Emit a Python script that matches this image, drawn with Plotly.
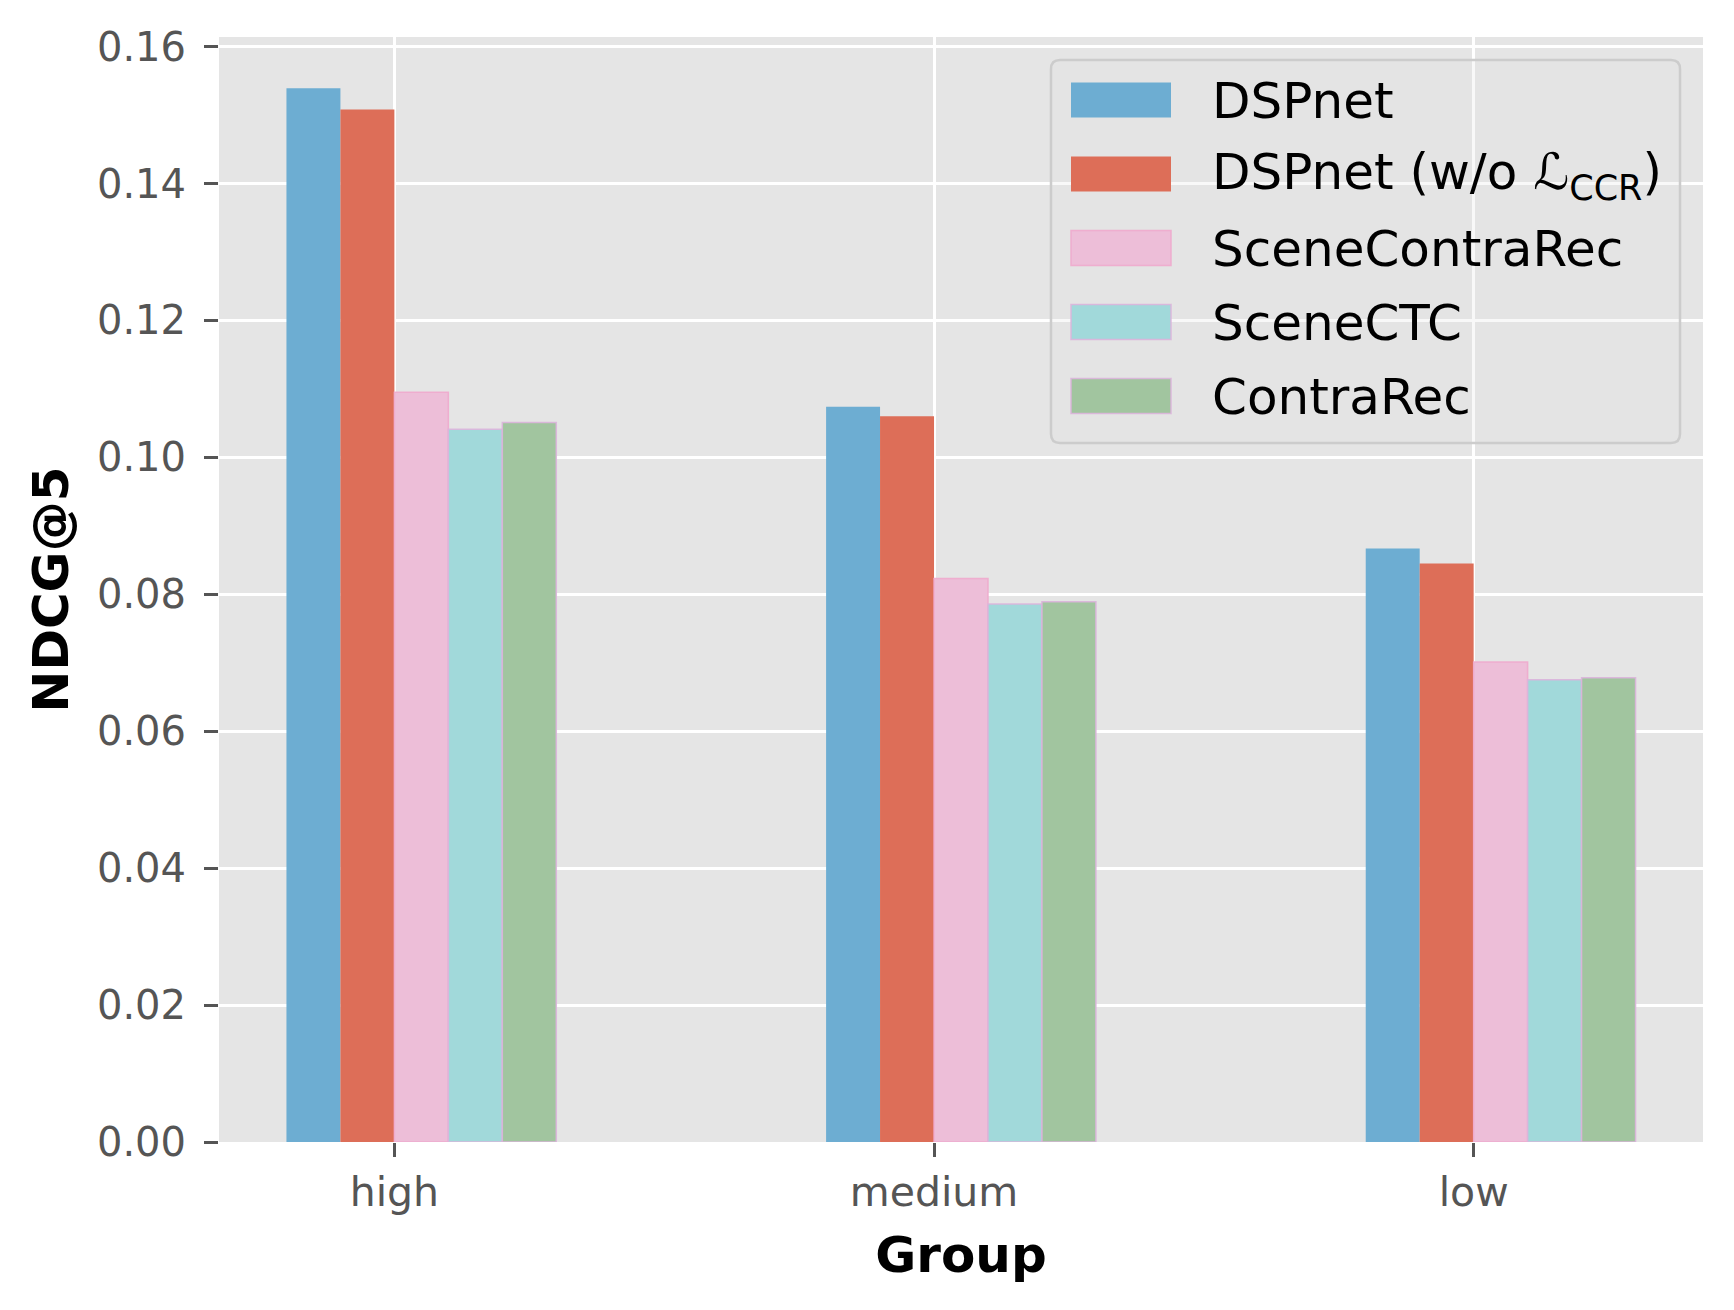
import plotly.graph_objects as go

# ---------------- data ----------------
groups = ["high", "medium", "low"]
series_names = ["DSPnet", "DSPnet (w/o ℒ<sub>CCR</sub>)", "SceneContraRec", "SceneCTC", "ContraRec"]
dspnet = [0.1539, 0.1074, 0.0867]
dspnet_wo_ccr = [0.1508, 0.1060, 0.0845]
scene_contra_rec = [0.1095, 0.0823, 0.0701]
scene_ctc = [0.1041, 0.0786, 0.0675]
contra_rec = [0.1051, 0.0789, 0.0678]
y_ticks = [0.00, 0.02, 0.04, 0.06, 0.08, 0.10, 0.12, 0.14, 0.16]

series_values = [dspnet, dspnet_wo_ccr, scene_contra_rec, scene_ctc, contra_rec]

# ---------------- style ----------------
OFF = 8  # page body margin
W, H = 1734 - OFF, 1310 - OFF
ML, MR, MT, MB = 219 - OFF, 31, 37 - OFF, 168
fills = ["#6DADD2", "#DD6E58", "#EDBED8", "#A1D9DA", "#A1C59F"]
edges = [None, None, "rgba(240,170,205,0.9)", "rgba(220,180,220,0.9)", "rgba(220,180,220,0.9)"]
bar_w = 0.1
FONT = "DejaVu Sans"

fig = go.Figure()
for i, (name, vals) in enumerate(zip(series_names, series_values)):
    line = dict(width=0) if edges[i] is None else dict(width=1.5, color=edges[i])
    fig.add_trace(go.Bar(
        x=groups, y=vals, name=name,
        width=bar_w, offset=(i - 2) * bar_w,
        marker=dict(color=fills[i], line=line),
        showlegend=False,
    ))

# ---------------- custom legend (matplotlib-like) ----------------
pw, ph = W - ML - MR, H - MT - MB
def px(xp):  # page pixel -> paper
    return (xp - OFF - ML) / pw
def py(yp):
    return (H - MB - (yp - OFF)) / ph

lx0, lx1, ly0, ly1 = 1051, 1680, 60, 443
r = 9
rx, ry = r / pw, r / ph
X0, X1, Y0, Y1 = px(lx0), px(lx1), py(ly1), py(ly0)  # Y0 bottom, Y1 top
path = (f"M{X0+rx},{Y1} L{X1-rx},{Y1} Q{X1},{Y1} {X1},{Y1-ry} "
        f"L{X1},{Y0+ry} Q{X1},{Y0} {X1-rx},{Y0} "
        f"L{X0+rx},{Y0} Q{X0},{Y0} {X0},{Y0+ry} "
        f"L{X0},{Y1-ry} Q{X0},{Y1} {X0+rx},{Y1} Z")
shapes = [dict(type="path", path=path, xref="paper", yref="paper",
               fillcolor="rgba(229,229,229,0.25)", line=dict(color="#CCCCCC", width=2.5),
               layer="above")]
annotations = []
row0, dy = 100, 74
for i, name in enumerate(series_names):
    cy = row0 + i * dy
    sl = dict(width=0) if edges[i] is None else dict(width=1.5, color=edges[i])
    shapes.append(dict(type="rect", xref="paper", yref="paper",
                       x0=px(1071), x1=px(1171), y0=py(cy + 17.5), y1=py(cy - 17.5),
                       fillcolor=fills[i], line=sl, layer="above"))
    annotations.append(dict(text=name, xref="paper", yref="paper",
                            x=px(1210), y=py(cy + 1), xanchor="left", yanchor="middle",
                            showarrow=False, font=dict(family=FONT, size=50, color="#000000")))

fig.update_layout(
    width=W, height=H,
    margin=dict(l=ML, r=MR, t=MT, b=MB, pad=0),
    paper_bgcolor="white", plot_bgcolor="#E5E5E5",
    barmode="overlay",
    font=dict(family=FONT, size=40, color="#555555"),
    shapes=shapes, annotations=annotations,
)
fig.update_xaxes(
    type="category", categoryorder="array", categoryarray=groups,
    range=[-0.325, 2.425], showgrid=True, gridcolor="white", gridwidth=3.3,
    ticks="outside", ticklen=14, tickwidth=3, tickcolor="#555555",
    tickfont=dict(family=FONT, size=41, color="#555555"),
    showline=False, zeroline=False, automargin=False,
    title=dict(text="<b>Group</b>", font=dict(family=FONT, size=50, color="#000000"), standoff=21),
)
fig.update_yaxes(
    range=[0, 0.1614], tickvals=y_ticks, tickformat=".2f",
    showgrid=True, gridcolor="white", gridwidth=3.3,
    ticks="outside", ticklen=14, tickwidth=3, tickcolor="#555555",
    tickfont=dict(family=FONT, size=40, color="#555555"), ticklabelstandoff=10,
    showline=False, zeroline=False, automargin=False,
    title=dict(text="<b>NDCG@5</b>", font=dict(family=FONT, size=50, color="#000000"), standoff=12),
)

fig.write_html("out.html")
